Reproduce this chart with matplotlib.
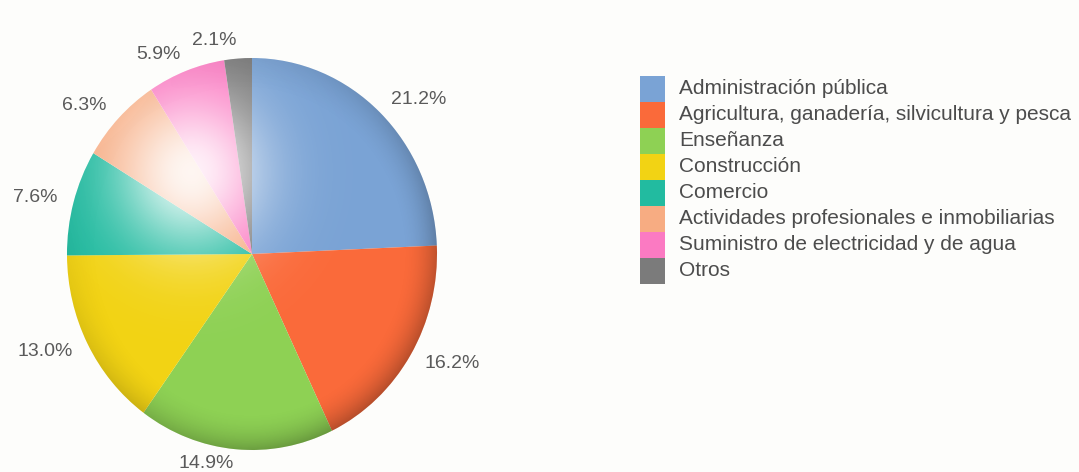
import numpy as np
import matplotlib
matplotlib.use('Agg')
import matplotlib.pyplot as plt
from matplotlib.patches import Circle, Rectangle

categories = ['Administración pública',
              'Agricultura, ganadería, silvicultura y pesca',
              'Enseñanza',
              'Construcción',
              'Comercio',
              'Actividades profesionales e inmobiliarias',
              'Suministro de electricidad y de agua',
              'Otros']
values = [21.2, 16.2, 14.9, 13.0, 7.6, 6.3, 5.9, 2.1]
colors = ['#7aa3d5', '#fa6a3a', '#8ed154', '#f2d314',
          '#22bba0', '#f7ac82', '#fb7ac2', '#7b7b7b']

W, H = 1079, 472
plt.rcParams['font.family'] = ['Liberation Sans', 'DejaVu Sans']
fig = plt.figure(figsize=(W / 100, H / 100), dpi=100, facecolor='#fdfdfb')

# pie is slightly taller than wide in the original, so use a free aspect
cx, cy, rx, ry = 252, 254, 185, 196
ax = fig.add_axes([(cx - rx) / W, (H - cy - ry) / H, 2 * rx / W, 2 * ry / H])
wedges, texts = ax.pie(values, colors=colors, startangle=90, counterclock=False,
                       labels=[f'{v:.1f}%' for v in values], labeldistance=1.09,
                       textprops={'fontsize': 14, 'color': '#5a5a5a'},
                       wedgeprops={'linewidth': 0})
ax.set_aspect('auto')
# bottom label sits right on the edge; nudge it up a little
x, y = texts[2].get_position()
texts[2].set_position((x, y + 3 / ry))

# soft lighting: highlight upper-left, darker rim lower-right
yy, xx = np.mgrid[-1:1:500j, -1:1:500j]
hl = np.zeros((500, 500, 4))
hl[..., :3] = 1.0
hl[..., 3] = 0.9 * np.exp(-((xx + 0.33) ** 2 + (yy - 0.42) ** 2) / 0.16)
rr = np.sqrt(xx ** 2 + yy ** 2)
sh = np.zeros((500, 500, 4))
side = np.clip(0.5 + 0.5 * (xx - yy) / np.sqrt(2), 0, 1)
sh[..., 3] = 0.28 * np.clip((rr - 0.8) / 0.2, 0, 1) ** 2 * side
for img in (hl, sh):
    im = ax.imshow(img, extent=[-1, 1, -1, 1], origin='lower', aspect='auto', zorder=3)
    im.set_clip_path(Circle((0, 0), 1, transform=ax.transData))
ax.set_xlim(-1, 1)
ax.set_ylim(-1, 1)
ax.axis('off')

# legend drawn as a colour column with labels
row_h = 26
top = 76
for i, (name, col) in enumerate(zip(categories, colors)):
    y0 = H - (top + row_h * (i + 1))
    fig.patches.append(Rectangle((640 / W, y0 / H), 25 / W, row_h / H,
                                 transform=fig.transFigure, color=col, lw=0))
    fig.text(679 / W, (y0 + row_h / 2) / H, name, fontsize=15,
             color='#4c4c4c', va='center', ha='left')

fig.savefig('out.png', dpi=100, facecolor=fig.get_facecolor())
